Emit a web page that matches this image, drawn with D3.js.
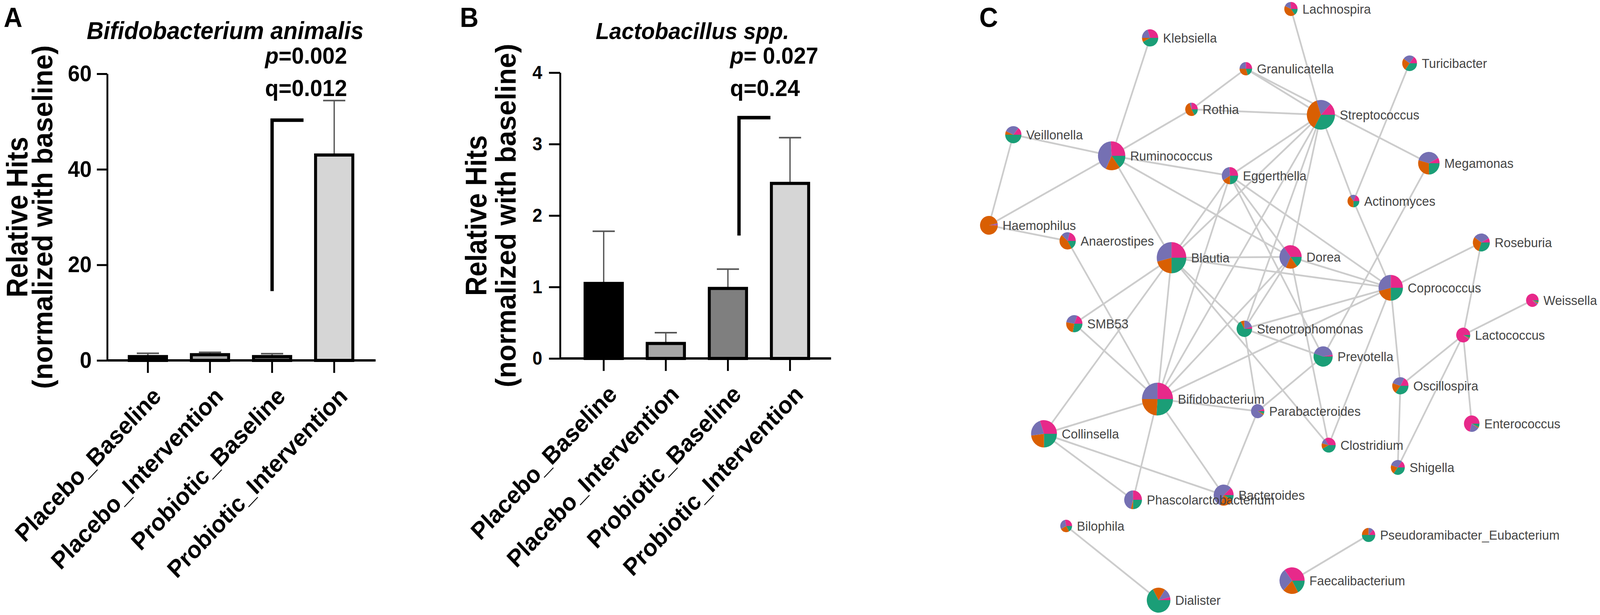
<!DOCTYPE html>
<html>
<head>
<meta charset="utf-8">
<script src="https://cdn.jsdelivr.net/npm/d3@7"></script>
<style>
  html, body { margin: 0; padding: 0; background: #ffffff; overflow: hidden; }
  svg { display: block; width: 100vw; height: 100vh; }
</style>
</head>
<body>
<svg id="chart" viewBox="0 0 4328 1575" preserveAspectRatio="none"></svg>
<script>
// ---------------- DATA ----------------
const categories = ["Placebo_Baseline", "Placebo_Intervention", "Probiotic_Baseline", "Probiotic_Intervention"];

// Panel A: Bifidobacterium animalis
const bifidoMeans = [0.8, 1.2, 0.8, 43.0];
const bifidoErrors = [0.7, 0.5, 0.6, 11.4];
const bifidoTicks = [0, 20, 40, 60];
const bifidoBracket = [14.5, 50.3];

// Panel B: Lactobacillus spp.
const lactoMeans = [1.05, 0.21, 0.98, 2.45];
const lactoErrors = [0.73, 0.15, 0.27, 0.64];
const lactoTicks = [0, 1, 2, 3, 4];
const lactoBracket = [1.72, 3.37];

// Panel C: co-occurrence network
const nodeNames = ["Lachnospira","Klebsiella","Granulicatella","Turicibacter","Rothia","Streptococcus",
  "Veillonella","Ruminococcus","Megamonas","Eggerthella","Actinomyces","Haemophilus","Anaerostipes",
  "Blautia","Dorea","Roseburia","Coprococcus","Weissella","SMB53","Stenotrophomonas","Lactococcus",
  "Prevotella","Oscillospira","Bifidobacterium","Parabacteroides","Collinsella","Enterococcus",
  "Clostridium","Shigella","Bacteroides","Phascolarctobacterium","Bilophila",
  "Pseudoramibacter_Eubacterium","Faecalibacterium","Dialister"];
const nodeX = [932, 551, 810, 1253, 663, 1013, 181, 447, 1305, 767, 1101, 115, 328, 609, 931, 1447, 1202, 1585,
  346, 806, 1398, 1019, 1228, 571, 842, 264, 1421, 1034, 1221, 750, 505, 324, 1142, 935, 574];
const nodeY = [23, 97, 176, 162, 280, 294, 345, 399, 418, 450, 515, 577, 617, 660, 658, 621, 737, 769,
  829, 842, 858, 913, 988, 1022, 1053, 1111, 1085, 1140, 1197, 1268, 1280, 1347, 1370, 1487, 1537];
const nodeSize = [18, 22, 17, 20, 17, 38, 22, 37, 29, 22, 16, 24, 22, 40, 30, 23, 33, 17,
  22, 21, 19, 26, 22, 42, 18, 35, 21, 19, 19, 27, 24, 16, 18, 34, 32];
// pie shares, clockwise from 3 o'clock: green, orange, purple, pink
const greenShare  = [0.15, 0.42, 0.20, 0.35, 0.17, 0.33, 0.50, 0.15, 0.25, 0.25, 0.25, 0.005, 0.17,
  0.25, 0.15, 0.30, 0.25, 0.05, 0.28, 0.67, 0.06, 0.55, 0.35, 0.26, 0.06, 0.25, 0.07, 0.42, 0.35,
  0.08, 0.25, 0.17, 0.50, 0.17, 0.67];
const orangeShare = [0.42, 0.08, 0.30, 0.25, 0.53, 0.37, 0.07, 0.17, 0.30, 0.16, 0.40, 0.96, 0.45,
  0.21, 0.17, 0.30, 0.21, 0.03, 0.25, 0.08, 0.02, 0.00, 0.20, 0.24, 0.03, 0.23, 0.02, 0.12, 0.20,
  0.22, 0.04, 0.25, 0.25, 0.20, 0.17];
const purpleShare = [0.17, 0.20, 0.25, 0.25, 0.05, 0.17, 0.29, 0.42, 0.38, 0.33, 0.17, 0.02, 0.17,
  0.29, 0.33, 0.32, 0.29, 0.04, 0.28, 0.21, 0.02, 0.42, 0.28, 0.25, 0.86, 0.22, 0.20, 0.12, 0.30,
  0.58, 0.46, 0.30, 0.12, 0.28, 0.12];
const pinkShare   = [0.26, 0.30, 0.25, 0.15, 0.25, 0.13, 0.14, 0.26, 0.08, 0.26, 0.18, 0.015, 0.21,
  0.25, 0.35, 0.08, 0.25, 0.88, 0.19, 0.04, 0.90, 0.03, 0.17, 0.25, 0.05, 0.30, 0.71, 0.34, 0.15,
  0.12, 0.25, 0.28, 0.13, 0.35, 0.04];
const edgeList = [
  ["Lachnospira","Streptococcus"], ["Klebsiella","Ruminococcus"], ["Granulicatella","Rothia"],
  ["Granulicatella","Streptococcus"], ["Granulicatella","Megamonas"], ["Turicibacter","Actinomyces"],
  ["Rothia","Streptococcus"], ["Rothia","Ruminococcus"], ["Streptococcus","Eggerthella"],
  ["Streptococcus","Actinomyces"], ["Streptococcus","Blautia"], ["Streptococcus","Bifidobacterium"],
  ["Streptococcus","Stenotrophomonas"], ["Streptococcus","Dorea"], ["Veillonella","Ruminococcus"],
  ["Veillonella","Haemophilus"], ["Haemophilus","Ruminococcus"], ["Haemophilus","Anaerostipes"],
  ["Anaerostipes","Bifidobacterium"], ["Ruminococcus","Eggerthella"], ["Ruminococcus","Blautia"],
  ["Ruminococcus","Dorea"], ["Megamonas","Prevotella"], ["Eggerthella","Blautia"],
  ["Eggerthella","Bifidobacterium"], ["Eggerthella","Dorea"], ["Eggerthella","Coprococcus"],
  ["Eggerthella","Prevotella"], ["Actinomyces","Coprococcus"], ["Blautia","Dorea"],
  ["Blautia","Coprococcus"], ["Blautia","SMB53"], ["Blautia","Collinsella"], ["Blautia","Bifidobacterium"],
  ["Blautia","Clostridium"], ["Blautia","Stenotrophomonas"], ["Dorea","Coprococcus"],
  ["Dorea","Stenotrophomonas"], ["Dorea","Bifidobacterium"], ["Dorea","Clostridium"],
  ["Roseburia","Coprococcus"], ["Roseburia","Lactococcus"], ["Coprococcus","Stenotrophomonas"],
  ["Coprococcus","Bifidobacterium"], ["Coprococcus","Oscillospira"], ["Coprococcus","Clostridium"],
  ["Weissella","Lactococcus"], ["SMB53","Bifidobacterium"], ["Stenotrophomonas","Prevotella"],
  ["Stenotrophomonas","Parabacteroides"], ["Lactococcus","Oscillospira"], ["Lactococcus","Shigella"],
  ["Lactococcus","Enterococcus"], ["Prevotella","Parabacteroides"], ["Oscillospira","Shigella"],
  ["Bifidobacterium","Parabacteroides"], ["Bifidobacterium","Collinsella"],
  ["Bifidobacterium","Phascolarctobacterium"], ["Bifidobacterium","Bacteroides"],
  ["Parabacteroides","Bacteroides"], ["Collinsella","Phascolarctobacterium"],
  ["Collinsella","Bacteroides"], ["Bilophila","Dialister"], ["Faecalibacterium","Pseudoramibacter_Eubacterium"]
];

// ---------------- DRAW ----------------
const FONT = "'Liberation Sans', Arial, Helvetica, sans-serif";
const svg = d3.select("#chart");
svg.append("rect").attr("width", 4328).attr("height", 1575).attr("fill", "#ffffff");

const barFills = ["#000000", "#a6a6a6", "#7f7f7f", "#d6d6d6"];

function barPanel(o) {
  const g = svg.append("g");
  const x = d3.scaleBand().domain(categories).range([o.xStart, o.xEnd]).paddingInner(0.4).paddingOuter(0.2);
  const y = d3.scaleLinear().domain([0, o.yMax]).range([o.yBottom, o.yTop]);
  const data = categories.map((c, i) => ({c, m: o.means[i], e: o.errors[i], fill: barFills[i]}));

  // error bars (upper only)
  const eb = g.append("g");
  eb.selectAll("line.v").data(data).join("line")
    .attr("x1", d => x(d.c) + x.bandwidth() / 2).attr("x2", d => x(d.c) + x.bandwidth() / 2)
    .attr("y1", d => y(d.m)).attr("y2", d => y(d.m + d.e))
    .attr("stroke", "#555").attr("stroke-width", 3.5);
  eb.selectAll("line.c").data(data).join("line")
    .attr("x1", d => x(d.c) + x.bandwidth() / 2 - 30).attr("x2", d => x(d.c) + x.bandwidth() / 2 + 30)
    .attr("y1", d => y(d.m + d.e)).attr("y2", d => y(d.m + d.e))
    .attr("stroke", "#555").attr("stroke-width", 4);

  // bars
  g.append("g").selectAll("rect").data(data).join("rect")
    .attr("x", d => x(d.c)).attr("width", x.bandwidth())
    .attr("y", d => y(d.m)).attr("height", d => y(0) - y(d.m))
    .attr("fill", d => d.fill).attr("stroke", "#000").attr("stroke-width", 8);

  // bracket
  const bx = x(categories[2]) + x.bandwidth() / 2 + o.bracketShift;
  g.append("path")
    .attr("d", `M${bx},${y(o.bracket[0])}V${y(o.bracket[1])}H${bx + 85}`)
    .attr("fill", "none").attr("stroke", "#000").attr("stroke-width", 9);

  // y axis
  const ya = g.append("g").attr("transform", `translate(${o.axisX},0)`)
    .call(d3.axisLeft(y).tickValues(o.ticks).tickFormat(d3.format("d"))
      .tickSize(o.tickLen).tickPadding(o.tickPad).tickSizeOuter(0));
  ya.select(".domain").attr("stroke", "#000").attr("stroke-width", 5);
  ya.selectAll(".tick line").attr("stroke", "#000").attr("stroke-width", 5);
  ya.selectAll(".tick text").attr("fill", "#000").style("font-family", FONT)
    .style("font-size", o.tickFont + "px").style("font-weight", "bold");

  // x axis
  const xa = g.append("g").attr("transform", `translate(0,${y(0)})`)
    .call(d3.axisBottom(x).tickSize(32).tickSizeOuter(0));
  xa.select(".domain").remove();
  xa.selectAll(".tick line").attr("stroke", "#000").attr("stroke-width", 5);
  xa.selectAll(".tick text")
    .attr("x", 0).attr("y", 0).attr("dy", "0.35em")
    .attr("text-anchor", "end")
    .attr("transform", "translate(24,80) rotate(-45)")
    .attr("fill", "#000").style("font-family", FONT).style("font-size", "62px").style("font-weight", "bold");
  g.append("line").attr("x1", o.axisX).attr("x2", o.axisEnd).attr("y1", y(0)).attr("y2", y(0))
    .attr("stroke", "#000").attr("stroke-width", 6);

  // y titles
  g.append("text").attr("transform", `translate(${o.title1X},${o.titleY}) rotate(-90)`)
    .attr("text-anchor", "middle").attr("textLength", 411).attr("lengthAdjust", "spacingAndGlyphs")
    .style("font-family", FONT).style("font-size", "80px").style("font-weight", "bold").text("Relative Hits");
  g.append("text").attr("transform", `translate(${o.title2X},${o.titleY}) rotate(-90)`)
    .attr("text-anchor", "middle").attr("textLength", 880).attr("lengthAdjust", "spacingAndGlyphs")
    .style("font-family", FONT).style("font-size", "76px").style("font-weight", "bold").text("(normalized with baseline)");

  // chart title
  g.append("text").attr("x", o.titleCX).attr("y", 100).attr("text-anchor", "middle")
    .style("font-family", FONT).style("font-size", o.titleFont + "px").style("font-weight", "bold")
    .style("font-style", "italic").text(o.title);

  // statistics
  const pt = g.append("text").attr("x", o.statX).attr("y", 163)
    .style("font-family", FONT).style("font-size", "60px").style("font-weight", "bold");
  pt.append("tspan").style("font-style", "italic").text("p");
  pt.append("tspan").text(o.pText);
  g.append("text").attr("x", o.statX).attr("y", 246)
    .style("font-family", FONT).style("font-size", "60px").style("font-weight", "bold").text(o.qText);
}

barPanel({
  means: bifidoMeans, errors: bifidoErrors, ticks: bifidoTicks, yMax: 60, bracket: bifidoBracket,
  yTop: 189, yBottom: 923, axisX: 290, xStart: 316, xEnd: 988, axisEnd: 1016,
  tickLen: 28, tickPad: 14, tickFont: 58, bracketShift: 0,
  title1X: 74, title2X: 142, titleY: 556,
  title: "Bifidobacterium animalis", titleCX: 609, titleFont: 63,
  statX: 717, pText: "=0.002", qText: "q=0.012"
});
barPanel({
  means: lactoMeans, errors: lactoErrors, ticks: lactoTicks, yMax: 4, bracket: lactoBracket,
  yTop: 186, yBottom: 918, axisX: 1515, xStart: 1549, xEnd: 2221, axisEnd: 2248,
  tickLen: 30, tickPad: 18, tickFont: 48, bracketShift: 30,
  title1X: 1315, title2X: 1395, titleY: 552,
  title: "Lactobacillus spp.", titleCX: 1873, titleFont: 60,
  statX: 1975, pText: "= 0.027", qText: "q=0.24"
});

// panel letters
[["A", 10], ["B", 1244], ["C", 2649]].forEach(([t, px]) => {
  svg.append("text").attr("x", px).attr("y", 69).style("font-family", FONT)
    .style("font-size", "70px").style("font-weight", "bold").text(t);
});

// ---------------- NETWORK ----------------
const xNet = d3.scaleLinear().domain([0, 1768]).range([2560, 4328]);
const yNet = d3.scaleLinear().domain([0, 1575]).range([0, 1575]);
const rNet = d3.scaleLinear().domain([0, 42]).range([0, 42]);
const sliceColors = ["#1b9e77", "#d95f02", "#7570b3", "#e7298a"];

const nodes = nodeNames.map((n, i) => ({
  name: n, x: xNet(nodeX[i]), y: yNet(nodeY[i]), r: rNet(nodeSize[i]),
  shares: [greenShare[i], orangeShare[i], purpleShare[i], pinkShare[i]]
}));
const byName = new Map(nodes.map(d => [d.name, d]));

const net = svg.append("g");
net.append("g").selectAll("line").data(edgeList).join("line")
  .attr("x1", d => byName.get(d[0]).x).attr("y1", d => byName.get(d[0]).y)
  .attr("x2", d => byName.get(d[1]).x).attr("y2", d => byName.get(d[1]).y)
  .attr("stroke", "#cccccc").attr("stroke-width", 4.5);

const pie = d3.pie().sort(null).value(d => d).startAngle(Math.PI / 2).endAngle(Math.PI / 2 + 2 * Math.PI);
const nodeG = net.append("g").selectAll("g").data(nodes).join("g")
  .attr("transform", d => `translate(${d.x},${d.y})`);
nodeG.each(function(d) {
  const arc = d3.arc().innerRadius(0).outerRadius(d.r);
  d3.select(this).selectAll("path").data(pie(d.shares)).join("path")
    .attr("d", arc).attr("fill", (p, i) => sliceColors[i]);
});

net.append("g").selectAll("text").data(nodes).join("text")
  .attr("x", d => d.x + d.r + 13).attr("y", d => d.y).attr("dy", "0.35em")
  .attr("fill", "#454545").style("font-family", FONT).style("font-size", "34px")
  .text(d => d.name);
</script>
</body>
</html>
